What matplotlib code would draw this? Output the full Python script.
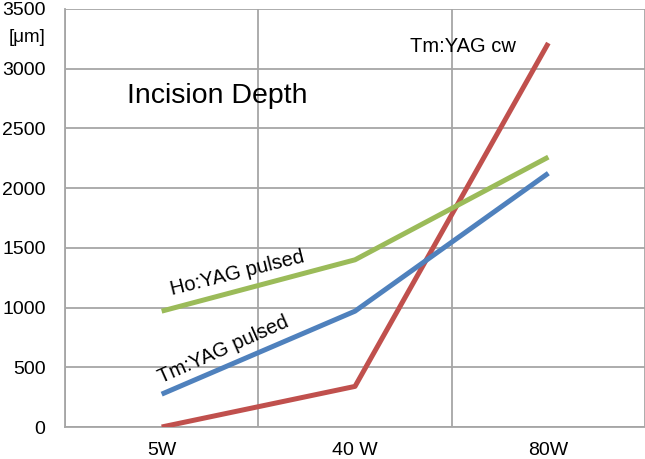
import matplotlib.pyplot as plt
import numpy as np

plt.rcParams["font.family"] = ["Liberation Sans", "DejaVu Sans"]

# Incision depth [um] at each laser power
powers = ["5W", "40 W", "80W"]
tm_cw = [0, 340, 3215]
tm_pulsed = [275, 970, 2125]
ho_pulsed = [970, 1400, 2260]

red = "#C0504D"
blue = "#4F81BD"
green = "#9BBB59"
grid_col = "#A6A6A6"

fig = plt.figure(figsize=(6.45, 4.59), dpi=100)
ax = fig.add_axes([65 / 645, 32 / 459, 580 / 645, 418 / 459])

x = np.arange(len(powers))
ax.plot(x, tm_cw, color=red, lw=3.6, solid_capstyle="butt", zorder=3)
ax.plot(x, tm_pulsed, color=blue, lw=3.6, solid_capstyle="butt", zorder=3)
ax.plot(x, ho_pulsed, color=green, lw=3.6, solid_capstyle="butt", zorder=3)

ax.set_xlim(-0.5, 2.5)
ax.set_ylim(0, 3500)
ax.set_yticks(np.arange(0, 3501, 500))
ax.set_xticks(x)
ax.set_xticklabels(powers)
ax.set_xticks(np.arange(-0.5, 2.6, 0.5), minor=True)
ax.tick_params(axis="both", which="both", length=0, labelsize=14)
ax.tick_params(axis="y", pad=14)
ax.tick_params(axis="x", pad=11)

ax.grid(True, which="minor", axis="x", color=grid_col, lw=1.3)
ax.grid(True, which="major", axis="y", color=grid_col, lw=1.3)
ax.set_axisbelow(True)
for side in ["top", "right"]:
    ax.spines[side].set_visible(False)
for side in ["left", "bottom"]:
    ax.spines[side].set_color(grid_col)
    ax.spines[side].set_linewidth(1.3)

fig.text(45 / 645, 1 - 38 / 459, "[μm]", ha="right", va="center", fontsize=13.5)

ax.text(-0.18, 2770, "Incision Depth", fontsize=20.5, ha="left", va="center")
ax.text(1.56, 3190, "Tm:YAG cw", fontsize=14.5, ha="center", va="center")
ax.text(0.39, 1290, "Ho:YAG pulsed", fontsize=14.5, ha="center", va="center", rotation=14)
ax.text(0.32, 650, "Tm:YAG pulsed", fontsize=14.5, ha="center", va="center", rotation=24)

fig.savefig("out.png", dpi=100)
